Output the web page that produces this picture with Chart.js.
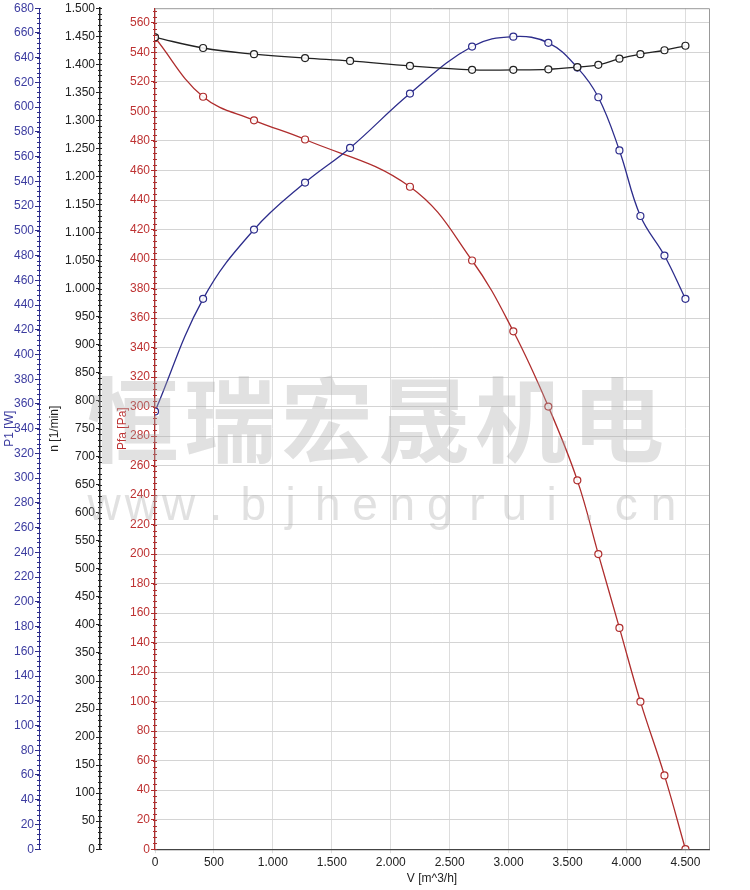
<!DOCTYPE html>
<html>
<head>
<meta charset="utf-8">
<script src="https://cdn.jsdelivr.net/npm/chart.js@4/dist/chart.umd.min.js"></script>
<style>
  html, body { margin: 0; padding: 0; background: #fff; }
  #wrap { width: 750px; height: 890px; }
</style>
</head>
<body>
<div id="wrap"><canvas id="c"></canvas></div>
<script>
// volume flow points [m^3/h]
const flow = [0, 408, 840, 1273, 1655, 2163, 2690, 3040, 3337, 3583, 3761, 3940, 4118, 4322, 4500];
// speed n [1/min]
const speed = [1448, 1429, 1418, 1411, 1406, 1397, 1390, 1390, 1391, 1395, 1399, 1410, 1418, 1425, 1433];
// input power P1 [W]
const power = [354, 445, 501, 539, 567, 611, 649, 657, 652, 632, 608, 565, 512, 480, 445];
// static pressure Pfa [Pa]
const flowPfa = [0, 408, 840, 1273, 2163, 2690, 3040, 3337, 3583, 3761, 3940, 4118, 4322, 4500];
const pressure = [550, 510, 494, 481, 449, 399, 351, 300, 250, 200, 150, 100, 50, 0];
// x axis ticks
const xTicks = [0, 500, 1000, 1500, 2000, 2500, 3000, 3500, 4000, 4500];

const blue = 'rgb(45,45,140)';
const red = 'rgb(175,45,45)';
const black = '#222';
const blueText = 'rgb(60,60,160)';
const redText = 'rgb(190,50,50)';

function pts(xs, ys) {
  return xs.map((x, i) => ({ x: x, y: ys[i] }));
}

function dotted(v) {
  if (v >= 1000) return Math.floor(v / 1000) + '.' + String(v % 1000).padStart(3, '0');
  return String(v);
}

const font = { family: 'Liberation Sans, Arial, sans-serif', size: 12 };

// small minor ticks along the three value axes, plus top/right frame
const minorTicks = {
  id: 'minorTicks',
  afterDraw(chart) {
    const ctx = chart.ctx;
    const defs = [['yP', 4, blue], ['yN', 10, black], ['yPa', 4, red]];
    defs.forEach(([id, step, col]) => {
      const s = chart.scales[id];
      const xLine = s.right;
      ctx.save();
      ctx.strokeStyle = col;
      ctx.lineWidth = 1;
      for (let v = s.min; v <= s.max; v += step) {
        const y = Math.round(s.getPixelForValue(v)) + 0.5;
        ctx.beginPath();
        ctx.moveTo(xLine - 2, y);
        ctx.lineTo(xLine + 2, y);
        ctx.stroke();
      }
      ctx.restore();
    });
    const a = chart.chartArea;
    ctx.save();
    ctx.strokeStyle = '#999';
    ctx.lineWidth = 1;
    ctx.beginPath();
    ctx.moveTo(a.left, a.top + 0.5);
    ctx.lineTo(a.right + 0.5, a.top + 0.5);
    ctx.lineTo(a.right + 0.5, a.bottom);
    ctx.stroke();
    ctx.restore();
  }
};

const watermark = {
  id: 'watermark',
  afterDraw(chart) {
    const ctx = chart.ctx;
    ctx.save();
    ctx.fillStyle = 'rgba(170,170,170,0.35)';
    ctx.textAlign = 'center';
    ctx.textBaseline = 'middle';
    ctx.font = 'bold 92px "Noto Sans CJK SC"';
    const cn = '恒瑞宏晟机电';
    for (let i = 0; i < cn.length; i++) {
      ctx.fillText(cn[i], 133 + i * 97, 420);
    }
    ctx.font = '46px "Liberation Sans", Arial, sans-serif';
    const url = 'www.bjhengrui.cn';
    for (let i = 0; i < url.length; i++) {
      ctx.fillText(url[i], 104 + i * 37.3, 507);
    }
    ctx.restore();
  }
};

new Chart(document.getElementById('c'), {
  type: 'line',
  data: {
    datasets: [
      {
        label: 'n',
        data: pts(flow, speed),
        yAxisID: 'yN',
        borderColor: black,
        borderWidth: 1.3,
        pointRadius: 3.5,
        pointBorderWidth: 1.2,
        pointBorderColor: black,
        pointBackgroundColor: 'rgba(255,255,255,0.9)',
        tension: 0.4,
        fill: false
      },
      {
        label: 'P1',
        data: pts(flow, power),
        yAxisID: 'yP',
        borderColor: blue,
        borderWidth: 1.3,
        pointRadius: 3.5,
        pointBorderWidth: 1.2,
        pointBorderColor: blue,
        pointBackgroundColor: 'rgba(255,255,255,0.9)',
        tension: 0.4,
        fill: false
      },
      {
        label: 'Pfa',
        data: pts(flowPfa, pressure),
        yAxisID: 'yPa',
        borderColor: red,
        borderWidth: 1.3,
        pointRadius: 3.5,
        pointBorderWidth: 1.2,
        pointBorderColor: red,
        pointBackgroundColor: 'rgba(255,255,255,0.9)',
        tension: 0.4,
        fill: false
      }
    ]
  },
  options: {
    responsive: true,
    maintainAspectRatio: false,
    animation: false,
    layout: { padding: { top: 8, right: 41, left: 0, bottom: 4 } },
    plugins: { legend: { display: false }, tooltip: { enabled: false } },
    scales: {
      x: {
        type: 'linear',
        min: 0,
        max: 4700,
        afterBuildTicks: s => { s.ticks = xTicks.map(v => ({ value: v })); },
        ticks: {
          color: black,
          font: font,
          padding: 2,
          maxRotation: 0,
          autoSkip: false,
          callback: v => dotted(v)
        },
        grid: { color: '#ddd', tickLength: 4 },
        border: { color: '#444', width: 1.2 },
        title: { display: true, text: 'V [m^3/h]', color: black, font: font, padding: { top: 0, bottom: 0 } }
      },
      yP: {
        type: 'linear',
        position: 'left',
        weight: 2,
        min: 0,
        max: 680,
        afterFit: s => { s.width = 39; },
        ticks: { stepSize: 20, color: blueText, font: font, padding: 1 },
        grid: { drawOnChartArea: false, color: blue, tickLength: 4 },
        border: { color: blue, width: 1 },
        title: { display: true, text: 'P1 [W]', color: blueText, font: font, padding: { top: 2, bottom: 0 } }
      },
      yN: {
        type: 'linear',
        position: 'left',
        weight: 1,
        min: 0,
        max: 1500,
        afterFit: s => { s.width = 61; },
        ticks: { stepSize: 50, color: black, font: font, padding: 1, callback: v => dotted(v) },
        grid: { drawOnChartArea: false, color: black, tickLength: 4 },
        border: { color: black, width: 1.5 },
        title: { display: true, text: 'n [1/min]', color: black, font: font, padding: { top: 8, bottom: 0 } }
      },
      yPa: {
        type: 'linear',
        position: 'left',
        weight: 0,
        min: 0,
        max: 570,
        afterFit: s => { s.width = 55; },
        ticks: { stepSize: 20, includeBounds: false, color: redText, font: font, padding: 1 },
        grid: { color: '#d4d4d4', borderDash: [1, 2], tickLength: 4, tickColor: red, tickBorderDash: [] },
        border: { color: red, width: 1.2 },
        title: { display: true, text: 'Pfa [Pa]', color: redText, font: font, padding: { top: 15, bottom: 0 } }
      }
    }
  },
  plugins: [minorTicks, watermark]
});
</script>
</body>
</html>
